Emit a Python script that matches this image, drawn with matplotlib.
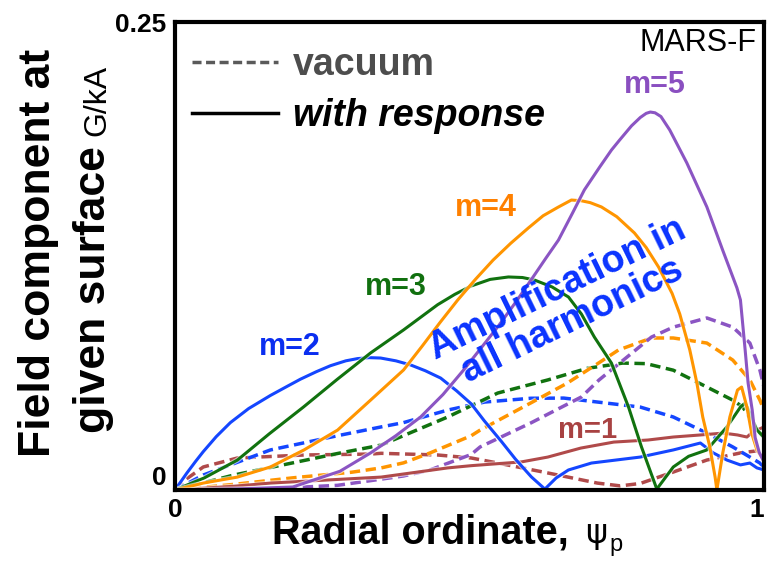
import matplotlib.pyplot as plt
import matplotlib.patheffects as pe
from matplotlib.lines import Line2D

plt.rcParams['font.family'] = ['Liberation Sans', 'DejaVu Sans']

# poloidal harmonics m=1..5, vacuum field and total field with plasma response
psi_m1_resp = [0, 0.1, 0.162, 0.25, 0.35, 0.463, 0.503, 0.588, 0.633, 0.689, 0.745, 0.803, 0.846, 0.892, 0.931, 0.955, 0.971, 0.981, 1.0]
b_m1_resp = [0, 0.002, 0.0037, 0.0052, 0.0069, 0.0118, 0.013, 0.015, 0.0176, 0.0224, 0.0256, 0.0267, 0.0283, 0.0294, 0.0304, 0.0294, 0.0283, 0.031, 0.0337]
psi_m1_vac = [0, 0.02, 0.048, 0.106, 0.219, 0.332, 0.35, 0.446, 0.503, 0.548, 0.633, 0.717, 0.756, 0.79, 0.846, 0.903, 0.96, 1.0]
b_m1_vac = [0, 0.006, 0.0123, 0.0171, 0.0187, 0.0192, 0.0196, 0.0187, 0.0171, 0.0144, 0.0091, 0.0037, 0.0022, 0.0035, 0.0096, 0.016, 0.0198, 0.0214]

psi_m2_resp = [0, 0.01, 0.02, 0.035, 0.048, 0.07, 0.094, 0.125, 0.162, 0.19, 0.213, 0.24, 0.264, 0.29, 0.31, 0.33, 0.349, 0.375, 0.40, 0.425, 0.451, 0.478, 0.503, 0.525, 0.554, 0.578, 0.605, 0.628, 0.647, 0.668, 0.707, 0.79, 0.846, 0.892, 0.914, 0.937, 0.96, 0.976, 0.988, 1.0]
b_m2_resp = [0, 0.0045, 0.009, 0.0153, 0.0205, 0.0285, 0.036, 0.0435, 0.0505, 0.0553, 0.0592, 0.0632, 0.0664, 0.069, 0.0702, 0.0707, 0.0705, 0.069, 0.0668, 0.0637, 0.0598, 0.053, 0.046, 0.037, 0.026, 0.0165, 0.007, 0.0005, 0.0064, 0.0107, 0.0144, 0.0176, 0.0214, 0.0251, 0.0198, 0.016, 0.0134, 0.0144, 0.0118, 0.0107]
psi_m2_vac = [0, 0.048, 0.162, 0.276, 0.35, 0.388, 0.463, 0.526, 0.604, 0.66, 0.717, 0.79, 0.846, 0.903, 0.947, 0.976, 0.993, 1.0]
b_m2_vac = [0, 0.008, 0.0214, 0.029, 0.0337, 0.036, 0.0427, 0.047, 0.049, 0.0491, 0.047, 0.0443, 0.039, 0.0304, 0.023, 0.0176, 0.0144, 0.012]

psi_m3_resp = [0, 0.05, 0.106, 0.16, 0.218, 0.275, 0.332, 0.388, 0.446, 0.475, 0.503, 0.535, 0.566, 0.59, 0.61, 0.64, 0.668, 0.69, 0.712, 0.741, 0.77, 0.792, 0.818, 0.846, 0.872, 0.903, 0.937, 0.96, 0.968, 0.976, 0.988, 1.0]
b_m3_resp = [0, 0.0065, 0.016, 0.03, 0.0443, 0.059, 0.0732, 0.0855, 0.099, 0.1045, 0.109, 0.1125, 0.1138, 0.1135, 0.1122, 0.1085, 0.1031, 0.094, 0.0817, 0.0678, 0.0443, 0.023, 0.0005, 0.0123, 0.018, 0.0214, 0.0337, 0.0443, 0.0465, 0.041, 0.032, 0.0283]
psi_m3_vac = [0, 0.05, 0.1, 0.2, 0.276, 0.35, 0.463, 0.548, 0.633, 0.7, 0.76, 0.8, 0.846, 0.903, 0.947, 0.964, 0.993, 1.0]
b_m3_vac = [0, 0.004, 0.008, 0.0145, 0.0195, 0.024, 0.039, 0.0518, 0.0588, 0.065, 0.0678, 0.0675, 0.064, 0.055, 0.048, 0.0443, 0.0304, 0.028]

psi_m4_resp = [0, 0.048, 0.106, 0.162, 0.219, 0.276, 0.332, 0.388, 0.42, 0.45, 0.48, 0.51, 0.54, 0.57, 0.6, 0.625, 0.65, 0.673, 0.69, 0.705, 0.724, 0.75, 0.78, 0.8, 0.821, 0.844, 0.857, 0.874, 0.886, 0.896, 0.908, 0.917, 0.92, 0.93, 0.942, 0.955, 0.962, 0.971, 0.979, 0.988, 0.996, 1.0]
b_m4_resp = [0, 0.0037, 0.0069, 0.0123, 0.0214, 0.032, 0.048, 0.0641, 0.077, 0.0895, 0.1015, 0.1125, 0.1228, 0.1318, 0.14, 0.1465, 0.151, 0.1549, 0.1545, 0.1535, 0.1512, 0.146, 0.1373, 0.1295, 0.1191, 0.105, 0.094, 0.0748, 0.0572, 0.039, 0.023, 0.0069, 0.0, 0.0198, 0.039, 0.0534, 0.055, 0.0443, 0.0304, 0.0214, 0.0176, 0.017]
psi_m4_vac = [0, 0.1, 0.2, 0.3, 0.35, 0.388, 0.433, 0.503, 0.518, 0.604, 0.666, 0.719, 0.753, 0.809, 0.846, 0.903, 0.947, 0.976, 0.993, 1.0]
b_m4_vac = [0, 0.003, 0.0065, 0.0095, 0.0118, 0.0145, 0.0198, 0.029, 0.032, 0.0465, 0.0571, 0.0678, 0.0748, 0.0812, 0.0812, 0.0785, 0.0694, 0.0588, 0.048, 0.0427]

psi_m5_resp = [0, 0.1, 0.2, 0.235, 0.28, 0.332, 0.375, 0.417, 0.455, 0.49, 0.52, 0.55, 0.58, 0.608, 0.63, 0.651, 0.675, 0.695, 0.721, 0.741, 0.755, 0.775, 0.79, 0.8, 0.807, 0.815, 0.825, 0.84, 0.869, 0.903, 0.93, 0.954, 0.96, 0.968, 0.973, 0.98, 0.985, 0.992, 1.0]
b_m5_resp = [0, 0.0005, 0.0016, 0.0053, 0.01, 0.0198, 0.029, 0.039, 0.051, 0.0641, 0.076, 0.088, 0.101, 0.1138, 0.124, 0.1335, 0.148, 0.1603, 0.1725, 0.1816, 0.187, 0.1945, 0.199, 0.2012, 0.2019, 0.2015, 0.1995, 0.1923, 0.1747, 0.1512, 0.128, 0.108, 0.1015, 0.0748, 0.0572, 0.0427, 0.028, 0.02, 0.015]
psi_m5_vac = [0, 0.15, 0.276, 0.388, 0.433, 0.503, 0.518, 0.604, 0.69, 0.72, 0.809, 0.846, 0.903, 0.947, 0.976, 0.993, 1.0]
b_m5_vac = [0, 0.0005, 0.0025, 0.0075, 0.0107, 0.019, 0.023, 0.0358, 0.0497, 0.0588, 0.0817, 0.087, 0.0919, 0.087, 0.0785, 0.0641, 0.055]

harmonics = ['m=1', 'm=2', 'm=3', 'm=4', 'm=5']
line_colors = ['#B04A4A', '#1446FF', '#11720F', '#FF9500', '#8B55C3']
label_colors = ['#A84242', '#0A2EF0', '#11700F', '#FF8000', '#8A4FC0']

vac = [(psi_m1_vac, b_m1_vac), (psi_m2_vac, b_m2_vac), (psi_m3_vac, b_m3_vac),
       (psi_m4_vac, b_m4_vac), (psi_m5_vac, b_m5_vac)]
resp = [(psi_m1_resp, b_m1_resp), (psi_m2_resp, b_m2_resp), (psi_m3_resp, b_m3_resp),
        (psi_m4_resp, b_m4_resp), (psi_m5_resp, b_m5_resp)]

W, H = 767, 563
fig = plt.figure(figsize=(W / 100, H / 100), dpi=100)
ax = fig.add_axes([175 / W, 73 / H, 589 / W, 468 / H])

halo = lambda lw: [pe.Stroke(linewidth=lw + 1.5, foreground='white', alpha=0.6), pe.Normal()]

for (x, y), c in zip(vac, line_colors):
    ax.plot(x, y, color=c, lw=2.5, dashes=(3, 1.6), dash_joinstyle='round',
            path_effects=halo(2.5))
for (x, y), c in zip(resp, line_colors):
    ax.plot(x, y, color=c, lw=2.2, solid_joinstyle='round', path_effects=halo(2.2))

ax.set_xlim(0, 1)
ax.set_ylim(0, 0.25)
ax.set_xticks([0, 1])
ax.set_xticklabels(['0', '1'])
ax.set_yticks([0, 0.25])
ax.set_yticklabels(['0', '0.25'])
ax.tick_params(length=0, labelsize=19, pad=6)
for lab in ax.get_xticklabels() + ax.get_yticklabels():
    lab.set_fontweight('bold')
ax.get_xticklabels()[1].set_ha('right')
ax.get_yticklabels()[0].set_va('bottom')
for sp in ax.spines.values():
    sp.set_linewidth(3)

# harmonic labels
label_pos = [(0.701, 0.032), (0.195, 0.0764), (0.375, 0.1084), (0.528, 0.1506), (0.815, 0.2163)]
for name, (lx, ly), c in zip(harmonics, label_pos, label_colors):
    ax.text(lx, ly, name, color=c, fontsize=22 if name != 'm=1' else 21,
            fontweight='bold', ha='center', va='center')

ax.text(0.988, 0.2388, 'MARS-F', fontsize=22, ha='right', va='center')
ax.text(0.662, 0.0988, 'Amplification in\nall harmonics', color='#0A33FF', fontsize=27,
        fontweight='bold', rotation=26, ha='center', va='center',
        multialignment='center', linespacing=0.95, rotation_mode='anchor')

handles = [Line2D([], [], color='#5A5A5A', lw=2.5, dashes=(2.6, 1.3)),
           Line2D([], [], color='black', lw=2.5)]
leg = ax.legend(handles, ['vacuum', 'with response'], loc='upper left',
                bbox_to_anchor=(0.029, 0.946), frameon=False, borderpad=0,
                borderaxespad=0, handlelength=2.3, handletextpad=0.4,
                labelspacing=0.4, prop={'size': 27, 'weight': 'bold'})
t_vac, t_resp = leg.get_texts()
t_vac.set_color('#4D4D4D')
t_resp.set_fontstyle('italic')

# axis titles, built from pieces with mixed weights
r = fig.canvas.get_renderer()
fig.text(50 / W, 106 / H, 'Field component at', rotation=90, rotation_mode='anchor',
         ha='left', va='baseline', fontsize=32, fontweight='bold')
t2 = fig.text(105 / W, 130 / H, 'given surface', rotation=90, rotation_mode='anchor',
              ha='left', va='baseline', fontsize=32, fontweight='bold')
bb = t2.get_window_extent(r)
fig.text(105 / W, (bb.y1 + 10) / H, 'G/kA', rotation=90, rotation_mode='anchor',
         ha='left', va='baseline', fontsize=23)

t3 = fig.text(272 / W, 20 / H, 'Radial ordinate,', ha='left', va='baseline',
              fontsize=28.5, fontweight='bold')
bb = t3.get_window_extent(r)
t4 = fig.text((bb.x1 + 16) / W, 20 / H, '\u03c8', ha='left', va='baseline', fontsize=24,
              family=['DejaVu Sans'])
bb = t4.get_window_extent(r)
fig.text((bb.x1 + 3) / W, 12 / H, 'p', ha='left', va='baseline', fontsize=17)

fig.savefig('out.png', dpi=100)
